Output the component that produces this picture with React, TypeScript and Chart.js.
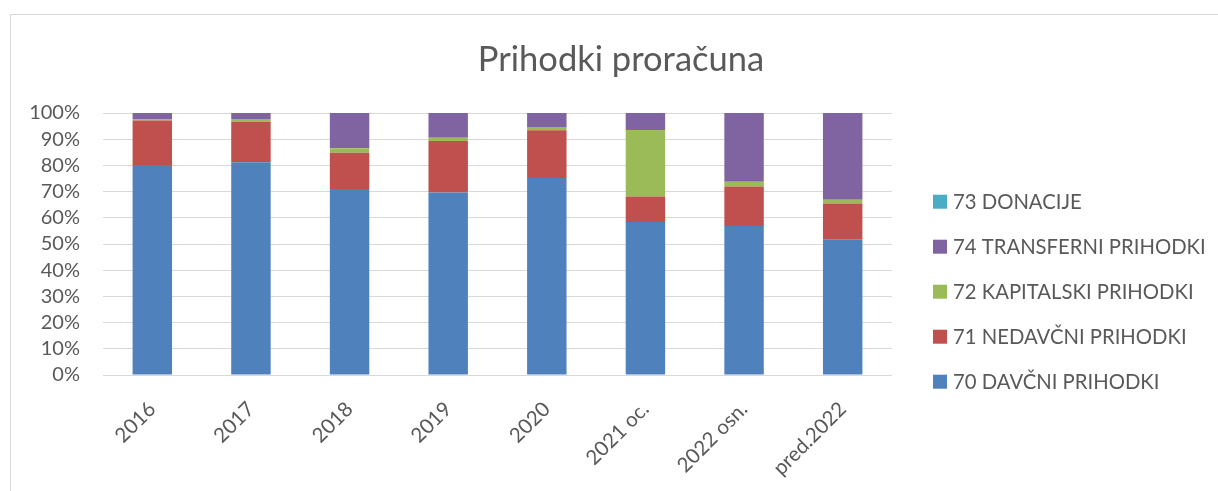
import React, { useEffect, useRef } from "react";
import { Chart, registerables } from "chart.js";

Chart.register(...registerables);

const categories = ["2016", "2017", "2018", "2019", "2020", "2021 oc.", "2022 osn.", "pred.2022"];
const davcni = [80.2, 81.2, 71.0, 69.7, 75.2, 58.4, 56.9, 51.8];
const nedavcni = [16.9, 15.5, 13.8, 19.6, 18.2, 9.7, 15.0, 13.7];
const kapitalski = [0.4, 1.0, 1.7, 1.3, 1.3, 25.4, 1.9, 1.4];
const transferni = [2.5, 2.3, 13.5, 9.4, 5.3, 6.5, 26.2, 33.1];
const donacije = [0, 0, 0, 0, 0, 0, 0, 0];

const seriesLabels = [
  "70 DAVČNI PRIHODKI",
  "71 NEDAVČNI PRIHODKI",
  "72 KAPITALSKI PRIHODKI",
  "74 TRANSFERNI PRIHODKI",
  "73 DONACIJE",
];
const seriesColors = ["#4F81BD", "#C0504D", "#9BBB59", "#8064A2", "#4BACC6"];
const titleText = "Prihodki proračuna";

const FONT = "Lato";
const TEXT = "#595959";

const sideLegendAndTitle = {
  id: "sideLegendAndTitle",
  afterDraw(chart: any) {
    const { ctx, chartArea } = chart;
    ctx.save();
    ctx.font = `34.5px ${FONT}`;
    ctx.fillStyle = TEXT;
    ctx.textAlign = "center";
    ctx.textBaseline = "middle";
    ctx.fillText(titleText, chart.width / 2, 46);

    const items = chart.data.datasets
      .map((d: any) => ({ label: d.label, color: d.backgroundColor }))
      .reverse();
    const x0 = chartArea.right + 41;
    const y0 = chartArea.top + 88.7;
    ctx.font = `20.3px ${FONT}`;
    ctx.textBaseline = "middle";
    ctx.textAlign = "left";
    items.forEach((it: any, i: number) => {
      const cy = y0 + i * 45;
      ctx.fillStyle = it.color;
      ctx.fillRect(x0, cy - 7, 14, 14);
      ctx.fillStyle = TEXT;
      ctx.fillText(it.label, x0 + 20, cy + 1);
    });
    ctx.restore();
  },
};

export default function App() {
  const ref = useRef<HTMLCanvasElement | null>(null);

  useEffect(() => {
    let chart: Chart | null = null;
    let cancelled = false;
    const build = () => {
      if (cancelled || !ref.current) return;
      const values = [davcni, nedavcni, kapitalski, transferni, donacije];
      chart = new Chart(ref.current, {
        type: "bar",
        data: {
          labels: categories,
          datasets: values.map((v, i) => ({
            label: seriesLabels[i],
            data: v,
            backgroundColor: seriesColors[i],
            borderWidth: 0,
            barPercentage: 0.4,
            categoryPercentage: 1,
          })),
        },
        options: {
          responsive: false,
          animation: false,
          devicePixelRatio: 1,
          layout: { padding: { left: 0, right: 340, top: 99, bottom: 0 } },
          plugins: {
            legend: { display: false },
            tooltip: { enabled: false },
            title: { display: false },
          },
          scales: {
            x: {
              stacked: true,
              grid: { display: false, drawTicks: false },
              border: { display: false },
              ticks: {
                color: TEXT,
                font: { family: FONT, size: 20.5 },
                minRotation: 45,
                maxRotation: 45,
                autoSkip: false,
                padding: 22,
              },
              afterFit: (s: any) => {
                s.height = 116;
              },
            },
            y: {
              stacked: true,
              min: 0,
              max: 100,
              grid: { color: "#d9d9d9", lineWidth: 1, drawTicks: false },
              border: { display: false },
              ticks: {
                stepSize: 10,
                autoSkip: false,
                color: TEXT,
                font: { family: FONT, size: 20 },
                padding: 23,
                callback: (v: any) => `${v}%`,
              },
              afterFit: (s: any) => {
                s.width = 93;
              },
            },
          },
        },
        plugins: [sideLegendAndTitle],
      });
    };
    const fontsApi: any = (document as any).fonts;
    if (fontsApi && fontsApi.load) {
      Promise.all([fontsApi.load(`20px ${FONT}`), fontsApi.load(`34px ${FONT}`)])
        .catch(() => null)
        .then(build);
    } else {
      build();
    }
    return () => {
      cancelled = true;
      if (chart) chart.destroy();
    };
  }, []);

  return (
    <div
      style={{
        position: "fixed",
        left: 0,
        top: 0,
        width: 1218,
        height: 491,
        overflow: "hidden",
        background: "#ffffff",
      }}
    >
      <div
        style={{
          position: "absolute",
          left: 10,
          top: 14,
          width: 1400,
          height: 700,
          borderLeft: "1px solid #d9d9d9",
          borderTop: "1px solid #d9d9d9",
        }}
      />
      <div style={{ position: "absolute", left: 10, top: 14, width: 1222, height: 477 }}>
        <canvas ref={ref} width={1222} height={477} style={{ width: 1222, height: 477, display: "block" }} />
      </div>
    </div>
  );
}
